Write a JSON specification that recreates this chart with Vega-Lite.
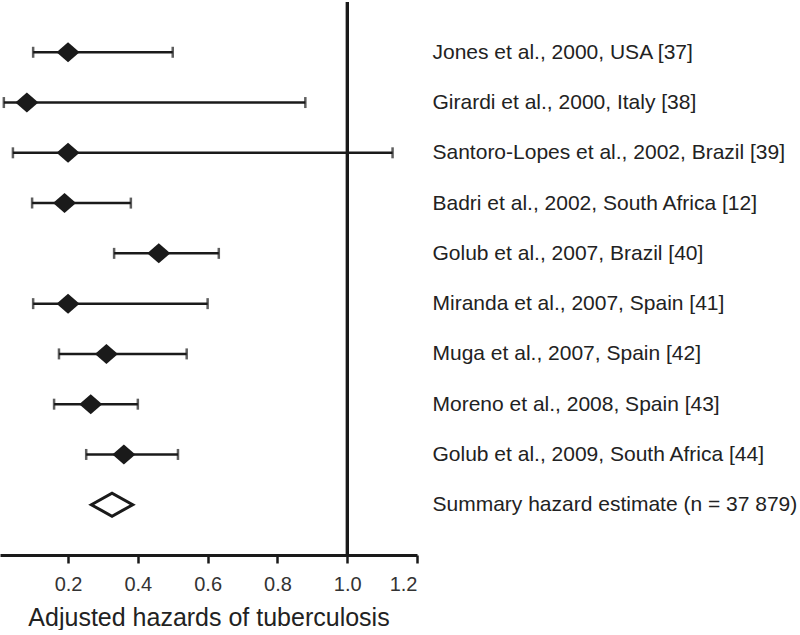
{
  "$schema": "https://vega.github.io/schema/vega-lite/v6.json",
  "width": 417,
  "height": 553,
  "padding": {"left": 0, "top": 0, "right": 0, "bottom": 0},
  "background": "white",
  "config": {
    "view": {"stroke": null},
    "font": "Liberation Sans"
  },
  "data": {
    "values": [
      {"study": "Jones et al., 2000, USA [37]", "est": 0.2, "lo": 0.1, "hi": 0.5, "type": "study"},
      {"study": "Girardi et al., 2000, Italy [38]", "est": 0.082, "lo": 0.016, "hi": 0.88, "type": "study"},
      {"study": "Santoro-Lopes et al., 2002, Brazil [39]", "est": 0.2, "lo": 0.042, "hi": 1.13, "type": "study"},
      {"study": "Badri et al., 2002, South Africa [12]", "est": 0.19, "lo": 0.097, "hi": 0.38, "type": "study"},
      {"study": "Golub et al., 2007, Brazil [40]", "est": 0.46, "lo": 0.332, "hi": 0.632, "type": "study"},
      {"study": "Miranda et al., 2007, Spain [41]", "est": 0.2, "lo": 0.1, "hi": 0.6, "type": "study"},
      {"study": "Muga et al., 2007, Spain [42]", "est": 0.31, "lo": 0.174, "hi": 0.54, "type": "study"},
      {"study": "Moreno et al., 2008, Spain [43]", "est": 0.265, "lo": 0.16, "hi": 0.4, "type": "study"},
      {"study": "Golub et al., 2009, South Africa [44]", "est": 0.36, "lo": 0.252, "hi": 0.515, "type": "study"},
      {"study": "Summary hazard estimate (n = 37 879)", "est": 0.326, "type": "summary"}
    ]
  },
  "encoding": {
    "y": {
      "field": "study",
      "type": "ordinal",
      "sort": null,
      "scale": {"type": "point", "padding": 1},
      "axis": {
        "orient": "right",
        "title": null,
        "domain": false,
        "ticks": false,
        "labelPadding": 15,
        "labelFontSize": 21,
        "labelColor": "#222222",
        "labelLimit": 500,
        "labelAlign": "left"
      }
    }
  },
  "layer": [
    {
      "mark": {"type": "rule", "color": "#1a1a1a", "strokeWidth": 2.5},
      "encoding": {
        "x": {"datum": 1},
        "y": null
      }
    },
    {
      "transform": [{"filter": "datum.type === 'study'"}],
      "mark": {"type": "rule", "color": "#1a1a1a", "strokeWidth": 2.5},
      "encoding": {
        "x": {
          "field": "lo",
          "type": "quantitative",
          "scale": {"domain": [0.005, 1.2], "nice": false, "zero": false},
          "axis": {
            "values": [0.2, 0.4, 0.6, 0.8, 1.0, 1.2],
            "format": ".1f",
            "title": "Adjusted hazards of tuberculosis",
            "grid": false,
            "domainColor": "#1a1a1a",
            "domainWidth": 3,
            "tickColor": "#1a1a1a",
            "tickWidth": 2.5,
            "tickSize": 8,
            "labelFontSize": 20,
            "labelColor": "#333333",
            "labelPadding": 11,
            "titleFontSize": 25,
            "titleFontWeight": "normal",
            "titleColor": "#222222",
            "titlePadding": 11
          }
        },
        "x2": {"field": "hi"}
      }
    },
    {
      "transform": [{"filter": "datum.type === 'study'"}],
      "mark": {"type": "tick", "color": "#1a1a1a", "size": 11, "thickness": 2.5},
      "encoding": {"x": {"field": "lo", "type": "quantitative"}}
    },
    {
      "transform": [{"filter": "datum.type === 'study'"}],
      "mark": {"type": "tick", "color": "#1a1a1a", "size": 11, "thickness": 2.5},
      "encoding": {"x": {"field": "hi", "type": "quantitative"}}
    },
    {
      "transform": [{"filter": "datum.type === 'study'"}],
      "mark": {"type": "point", "shape": "M-1,0L0,-0.87L1,0L0,0.87Z", "filled": true, "color": "#1a1a1a", "opacity": 1, "size": 529},
      "encoding": {"x": {"field": "est", "type": "quantitative"}}
    },
    {
      "transform": [{"filter": "datum.type === 'summary'"}],
      "mark": {"type": "point", "shape": "M-1.8,0L0,-1L1.8,0L0,1Z", "filled": false, "stroke": "#1a1a1a", "strokeWidth": 3, "opacity": 1, "size": 529},
      "encoding": {"x": {"field": "est", "type": "quantitative"}}
    }
  ]
}
